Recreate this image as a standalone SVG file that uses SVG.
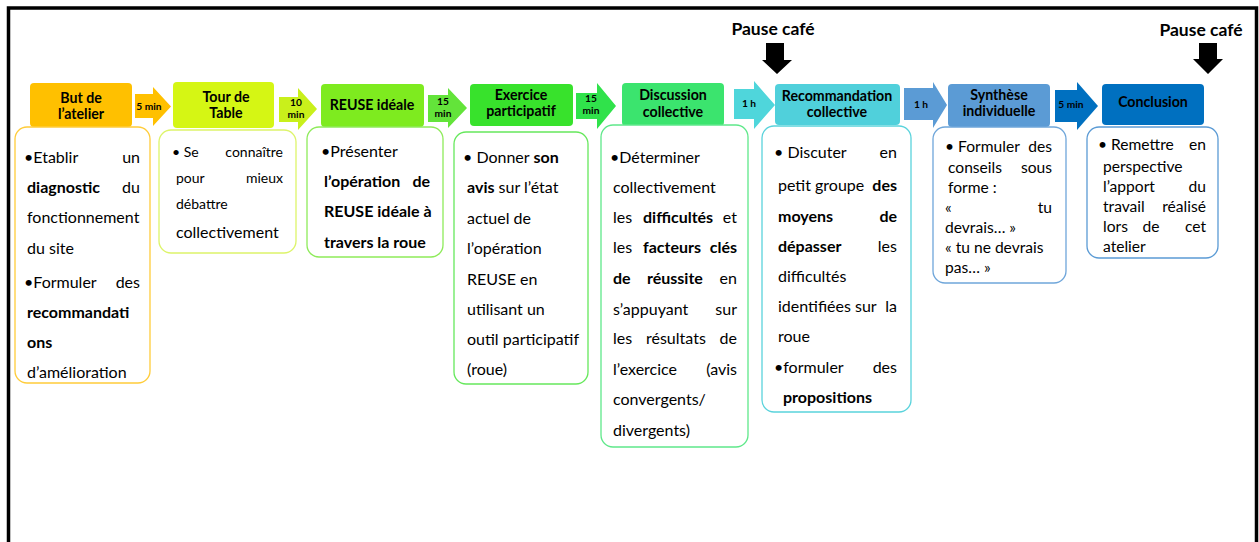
<svg xmlns="http://www.w3.org/2000/svg" width="1259" height="542" viewBox="0 0 1259 542">
<style>
text{font-family:Lato,"Liberation Sans",sans-serif;fill:#000}
.h{font-weight:bold;font-size:14.2px;text-anchor:middle}
.a{font-weight:bold;font-size:10.2px;text-anchor:middle}
.t{font-size:16px}
.s{font-size:14px}
.m{font-size:15.6px}
.b{font-weight:bold}
.e{text-anchor:end}
.c{text-anchor:middle}
.d{fill:#fff;stroke-width:1.3}
.p{font-weight:bold;font-size:17.5px;text-anchor:middle}
</style>
<rect x="8.5" y="8" width="1248" height="560" fill="#fff" stroke="#000" stroke-width="3.5"/>

<g id="pauses">
<text class="p" x="773" y="35">Pause café</text>
<polygon points="766,43 784,43 784,60 792,60 777,74 762,60 766,60" fill="#000"/>
<text class="p" x="1201" y="36">Pause café</text>
<polygon points="1199,43 1217,43 1217,59 1223,59 1208,74 1193,59 1199,59" fill="#000"/>
</g>

<g id="connectors">
<polygon points="135,94 153,94 153,87 171,106.5 153,126 153,118 135,118" fill="#FFC000"/>
<text class="a" x="149" y="110">5 min</text>
<polygon points="279,97 298,97 298,88 317,109 298,130 298,122 279,122" fill="#C9F01B"/>
<text class="a" x="296" y="106">10</text><text class="a" x="296" y="118">min</text>
<polygon points="428,95 448,95 448,88 467,108 448,128 448,122 428,122" fill="#63E43A"/>
<text class="a" x="443" y="105">15</text><text class="a" x="443" y="117">min</text>
<polygon points="576,93 597,93 597,83 616,106 597,129 597,119 576,119" fill="#30E24B"/>
<text class="a" x="591" y="102">15</text><text class="a" x="591" y="114">min</text>
<polygon points="734,89 754,89 754,81 775,105 754,129 754,119 734,119" fill="#4FD6DB"/>
<text class="a" x="749" y="107">1 h</text>
<polygon points="904,88 933,88 933,82 947,105 933,128 933,120 904,120" fill="#5B9BD5"/>
<text class="a" x="921" y="108">1 h</text>
<polygon points="1055,90 1077,90 1077,82 1098,106 1077,130 1077,122 1055,122" fill="#0070C0"/>
<text class="a" x="1071" y="108">5 min</text>
</g>

<g id="but">
<rect x="30" y="83" width="102" height="44" rx="4" fill="#FFC000"/>
<text class="h" x="81" y="103">But de</text>
<text class="h" x="81" y="119">l’atelier</text>
<rect class="d" x="15" y="127" width="135" height="256" rx="12" stroke="#FFCC3A"/>
<text class="t" x="24" y="163">•Etablir</text><text class="t e" x="140" y="163">un</text>
<text class="t b" x="27" y="193">diagnostic</text><text class="t e" x="140" y="193">du</text>
<text class="t" x="27" y="223">fonctionnement</text>
<text class="t" x="27" y="254">du site</text>
<text class="t" x="24" y="288">•Formuler</text><text class="t e" x="140" y="288">des</text>
<text class="t b" x="27" y="318">recommandati</text>
<text class="t b" x="27" y="348">ons</text>
<text class="t" x="27" y="378">d’amélioration</text>
</g>

<g id="tour">
<rect x="173" y="82" width="101" height="46" rx="4" fill="#D5F614"/>
<text class="h" x="226" y="102">Tour de</text>
<text class="h" x="226" y="118">Table</text>
<rect class="d" x="159" y="130" width="137" height="123" rx="12" stroke="#DDF46A"/>
<text class="s" x="172" y="157">• Se</text><text class="s e" x="283" y="157">connaître</text>
<text class="s" x="176" y="183">pour</text><text class="s e" x="283" y="183">mieux</text>
<text class="s" x="176" y="209">débattre</text>
<text class="t" x="176" y="238">collectivement</text>
</g>

<g id="reuse">
<rect x="321" y="84" width="103" height="43" rx="4" fill="#7EEB1F"/>
<text class="h" x="372" y="110">REUSE idéale</text>
<rect class="d" x="307" y="127" width="136" height="130" rx="12" stroke="#8EEB5A"/>
<text class="t" x="321" y="157">•Présenter</text>
<text class="t b" x="324" y="187">l’opération</text><text class="t b e" x="430" y="187">de</text>
<text class="t b" x="324" y="217">REUSE idéale à</text>
<text class="t b" x="324" y="248">travers la roue</text>
</g>

<g id="exercice">
<rect x="470" y="84" width="103" height="42" rx="4" fill="#38E22C"/>
<text class="h" x="521" y="100">Exercice</text>
<text class="h" x="521" y="116">participatif</text>
<rect class="d" x="454" y="132" width="134" height="252" rx="12" stroke="#66E85C"/>
<text class="t" x="463" y="163">• Donner <tspan class="b">son</tspan></text>
<text class="t" x="467" y="193"><tspan class="b">avis</tspan> sur l’état</text>
<text class="t" x="467" y="224">actuel de</text>
<text class="t" x="467" y="254">l’opération</text>
<text class="t" x="467" y="285">REUSE  en</text>
<text class="t" x="467" y="315">utilisant un</text>
<text class="t" x="467" y="345">outil participatif</text>
<text class="t" x="467" y="375">(roue)</text>
</g>

<g id="discussion">
<rect x="622" y="83" width="102" height="43" rx="4" fill="#3BE46E"/>
<text class="h" x="673" y="100">Discussion</text>
<text class="h" x="673" y="117">collective</text>
<rect class="d" x="601" y="125" width="147" height="322" rx="12" stroke="#5FE88A"/>
<text class="t" x="610" y="163">•Déterminer</text>
<text class="t" x="613" y="193">collectivement</text>
<text class="t" x="613" y="223">les</text><text class="t b" x="643" y="223">difficultés</text><text class="t e" x="737" y="223">et</text>
<text class="t" x="613" y="253">les</text><text class="t b" x="643" y="253">facteurs</text><text class="t b e" x="737" y="253">clés</text>
<text class="t b" x="613" y="284">de</text><text class="t b" x="647" y="284">réussite</text><text class="t e" x="737" y="284">en</text>
<text class="t" x="613" y="315">s’appuyant</text><text class="t e" x="737" y="315">sur</text>
<text class="t" x="613" y="344">les</text><text class="t" x="646" y="344">résultats</text><text class="t e" x="737" y="344">de</text>
<text class="t" x="613" y="375">l’exercice</text><text class="t e" x="737" y="375">(avis</text>
<text class="t" x="613" y="405">convergents/</text>
<text class="t" x="613" y="436">divergents)</text>
</g>

<g id="recommandation">
<rect x="775" y="84" width="125" height="41" rx="4" fill="#50D0DB"/>
<text class="h" x="837" y="101">Recommandation</text>
<text class="h" x="837" y="117">collective</text>
<rect class="d" x="762" y="126" width="149" height="286" rx="12" stroke="#5AD3DC"/>
<text class="t" x="774" y="158">• Discuter</text><text class="t e" x="897" y="158">en</text>
<text class="t" x="778" y="191">petit groupe</text><text class="t b e" x="897" y="191">des</text>
<text class="t b" x="778" y="222">moyens</text><text class="t b e" x="897" y="222">de</text>
<text class="t b" x="778" y="252">dépasser</text><text class="t e" x="897" y="252">les</text>
<text class="t" x="778" y="282">difficultés</text>
<text class="t" x="778" y="312">identifiées sur</text><text class="t e" x="897" y="312">la</text>
<text class="t" x="778" y="342">roue</text>
<text class="t" x="774" y="373">•formuler</text><text class="t e" x="897" y="373">des</text>
<text class="t b" x="783" y="403">propositions</text>
</g>

<g id="synthese">
<rect x="948" y="84" width="102" height="43" rx="4" fill="#5B9BD5"/>
<text class="h" x="999" y="100">Synthèse</text>
<text class="h" x="999" y="116">individuelle</text>
<rect class="d" x="933" y="127" width="133" height="156" rx="12" stroke="#6FA6DA"/>
<text class="m" x="945" y="152">• Formuler</text><text class="m e" x="1052" y="152">des</text>
<text class="m" x="948" y="173">conseils</text><text class="m e" x="1052" y="173">sous</text>
<text class="m" x="948" y="193">forme :</text>
<text class="m" x="945" y="213">«</text><text class="m e" x="1052" y="213">tu</text>
<text class="m" x="945" y="233">devrais… »</text>
<text class="m" x="945" y="253">«  tu ne devrais</text>
<text class="m" x="945" y="273">pas… »</text>
</g>

<g id="conclusion">
<rect x="1102" y="84" width="102" height="41" rx="4" fill="#0070C0"/>
<text class="h" x="1153" y="107">Conclusion</text>
<rect class="d" x="1087" y="127" width="131" height="131" rx="12" stroke="#5B9BD5"/>
<text class="m" x="1098" y="150">• Remettre</text><text class="m e" x="1206" y="150">en</text>
<text class="m" x="1103" y="172">perspective</text>
<text class="m" x="1103" y="192">l’apport</text><text class="m e" x="1206" y="192">du</text>
<text class="m" x="1103" y="212">travail</text><text class="m e" x="1206" y="212">réalisé</text>
<text class="m" x="1103" y="232">lors</text><text class="m c" x="1151" y="232">de</text><text class="m e" x="1206" y="232">cet</text>
<text class="m" x="1103" y="252">atelier</text>
</g>
</svg>
